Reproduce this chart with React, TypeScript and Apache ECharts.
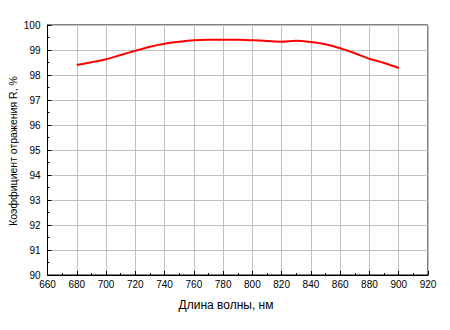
import React, { useEffect, useRef } from "react";
import * as echarts from "echarts";

const wavelengths = [680, 690, 700, 710, 720, 730, 740, 750, 760, 770, 780, 790, 800, 810, 820, 830, 840, 850, 860, 870, 880, 890, 900];
const reflectance = [98.40, 98.51, 98.63, 98.80, 98.97, 99.13, 99.25, 99.33, 99.39, 99.41, 99.41, 99.41, 99.39, 99.36, 99.33, 99.37, 99.32, 99.23, 99.07, 98.87, 98.65, 98.48, 98.28];
const xTitle = "Длина волны, нм";
const yTitle = "Коэффициент отражения R, %";

export default function App() {
  const ref = useRef<HTMLDivElement>(null);
  useEffect(() => {
    const chart = echarts.init(ref.current!, null, { renderer: "svg" });
    const font = "Liberation Sans, Arial, sans-serif";
    chart.setOption({
      animation: false,
      backgroundColor: "#ffffff",
      grid: {
        left: 47.5, right: 22, top: 25, bottom: 55,
        show: true, borderColor: "#000", borderWidth: 1,
        containLabel: false, outerBoundsMode: "none",
      },
      graphic: [
        {
          type: "text",
          x: 226,
          y: 305,
          style: {
            text: xTitle,
            font: `12px ${font}`,
            fill: "#000",
            align: "center",
            verticalAlign: "middle",
          },
        },
        {
          type: "text",
          x: 13,
          y: 151,
          rotation: Math.PI / 2,
          style: {
            text: yTitle,
            font: `10.5px ${font}`,
            fill: "#000",
            align: "center",
            verticalAlign: "middle",
          },
        },
      ],
      xAxis: {
        type: "value",
        min: 660,
        max: 920,
        interval: 20,
        axisLine: { show: true, onZero: false, lineStyle: { color: "#000", width: 1 } },
        axisTick: { show: true, inside: true, length: 4, lineStyle: { color: "#000" } },
        minorTick: { show: true, splitNumber: 2, length: 2, lineStyle: { color: "#000" } },
        axisLabel: { fontFamily: font, fontSize: 10, color: "#000", margin: 4 },
        splitLine: { show: true, lineStyle: { color: "#c0c0c0", width: 1 } },
      },
      yAxis: {
        type: "value",
        min: 90,
        max: 100,
        interval: 1,
        axisLine: { show: true, onZero: false, lineStyle: { color: "#000", width: 1 } },
        axisTick: { show: true, inside: true, length: 4, lineStyle: { color: "#000" } },
        minorTick: { show: true, splitNumber: 2, length: 2, lineStyle: { color: "#000" } },
        axisLabel: { fontFamily: font, fontSize: 10, color: "#000", margin: 7 },
        splitLine: { show: true, lineStyle: { color: "#c0c0c0", width: 1 } },
      },
      series: [
        {
          type: "line",
          data: wavelengths.map((w, i) => [w, reflectance[i]]),
          smooth: 0.3,
          showSymbol: false,
          lineStyle: { color: "#ff0000", width: 2 },
        },
      ],
    });
    return () => chart.dispose();
  }, []);
  return <div ref={ref} style={{ width: 450, height: 330, position: "absolute", left: 0, top: 0 }} />;
}
